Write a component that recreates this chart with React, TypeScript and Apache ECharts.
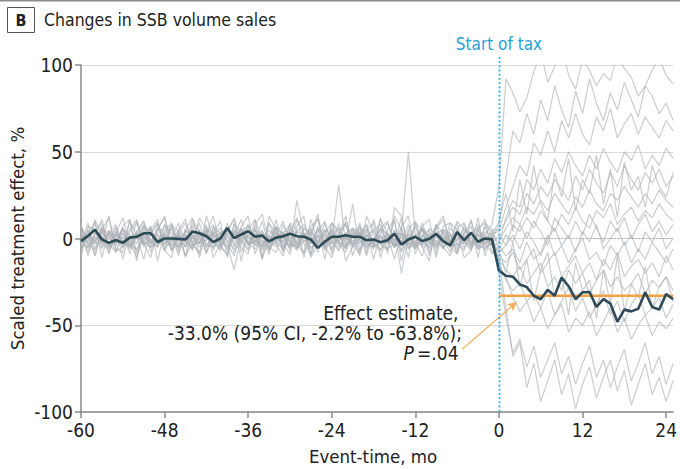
import React, { useEffect, useRef } from 'react';
import * as echarts from 'echarts';

const FONT = '"DejaVu Sans Condensed","Liberation Sans",sans-serif';

const eventTime = [
  -60, -59, -58, -57, -56, -55, -54, -53, -52, -51, -50, -49, -48, -47, -46, -45, -44, -43, -42, -41,
  -40, -39, -38, -37, -36, -35, -34, -33, -32, -31, -30, -29, -28, -27, -26, -25, -24, -23, -22, -21,
  -20, -19, -18, -17, -16, -15, -14, -13, -12, -11, -10, -9, -8, -7, -6, -5, -4, -3, -2, -1,
  0, 1, 2, 3, 4, 5, 6, 7, 8, 9, 10, 11, 12, 13, 14, 15, 16, 17, 18, 19, 20, 21, 22, 23, 24, 25,
];

const treatedPre = [
  -1.5, 1.5, 5, -0.5, -2.5, -1, -2.5, 0.5, 1, 3,
  3, -2, 0, 0, -0.2, -0.6, 4, 3, 1.3, -2,
  0, 6, 0.2, 2.3, 4.2, 1, 1.7, -1.7, 0.5, 1.3,
  2.7, 1.3, 1, -0.6, -5.4, -1.9, 1, 1, 1.9, 1,
  1, -1, -0.6, -2.1, -1, 2.7, -3.5, -0.6, 1, -1.5,
  -0.2, 2.7, -1.5, -4, 3.7, -1, 3.3, -1.9, 0, -0.5,
];
const treatedPost = [
  -18.5, -21.5, -22, -26.5, -28, -33, -35, -29.5, -33, -22.5, -27.5, -35, -31,
  -30.8, -39.4, -35, -37.5, -48, -41, -42, -40.5, -31, -39.5, -41, -32, -35,
];

const effectEstimate = -33.0;
const taxStart = 0;
const lastMonth = 25;
const xTicks = [-60, -48, -36, -24, -12, 0, 12, 24];

const placeboLines: number[][] = [
  [7,-5,11,2,-9,3,12,-4,0,8, -8,5,12,-2,3,-10,1,9,-5,3, 10,-11,4,0,-6,8,14,-2,6,-8, 3,12,-3,-9,4,10,-6,2,13,-5, 0,6,-12,3,9,-3,12,-6,2,5, -10,6,11,-2,-8,3,10,-5,2,8,
   30,92,84,73,81,96,108,90,99,112,94,86,103,97,88,95,91,106,98,93,82,88,97,104,94,89],
  [-2,5,-6,3,1,-4,6,-1,-7,2, 4,-3,0,7,-5,2,-2,5,-8,1, 3,6,-4,-1,8,-3,2,-6,4,0, -5,22,3,-2,5,-4,1,-7,3,6, -2,1,5,-3,-6,4,2,-1,7,-4, 3,-2,-5,6,1,-3,4,-6,2,-1,
   8,35,62,55,72,60,80,68,88,74,64,85,72,92,78,68,84,74,90,80,70,88,82,72,78,68],
  [2,-8,3,9,-5,-2,6,-9,4,10, -3,2,-7,8,4,-11,9,0,-5,6, -2,3,12,-8,2,5,-5,9,-3,-10, 6,2,-8,11,-2,5,-9,3,8,-5, 9,-6,0,5,-3,10,-8,2,-5,6, 0,8,-6,3,-9,5,2,8,-3,5,
   5,18,30,42,36,55,48,62,50,68,58,72,60,54,70,62,75,58,66,72,60,70,64,58,68,62],
  [-4,2,5,-3,0,6,-5,1,3,-2, 7,-4,2,-1,5,0,-6,3,4,-2, -5,3,1,6,-3,2,-4,5,-1,3, -7,4,2,-3,6,1,-2,31,-4,2, 5,-1,-3,6,2,-5,3,0,-4,6, 1,-3,5,-2,4,-1,-6,3,2,-4,
   -3,12,22,18,34,28,40,32,46,38,50,42,36,48,40,52,44,38,50,45,54,40,48,42,52,46],
  [5,0,-3,7,-8,2,3,-5,10,-2, -5,8,2,-7,3,9,-3,-8,5,2, 6,-3,-10,3,8,-2,5,-7,2,10, -3,-5,6,2,-8,3,9,-2,-5,6, 3,-10,5,8,-3,2,-7,5,10,-2, -5,3,0,-8,6,9,-3,2,-7,3,
   4,10,18,14,26,20,30,24,34,28,22,36,28,40,32,26,38,30,42,34,28,38,32,40,30,36],
  [-3,9,-10,5,12,-6,-8,10,2,-12, 5,11,-7,0,9,-5,7,-11,3,13, -5,-9,8,4,-3,11,-12,2,7,-7, 9,5,-11,3,14,-7,5,-3,10,-10, 2,8,-5,12,-9,18,13,-6,-2,7, 11,-9,5,3,-7,9,-5,12,-10,2,
   -2,6,12,8,18,14,22,16,26,20,14,24,18,28,20,16,26,22,30,24,18,26,20,28,22,18],
  [5,-10,3,11,-5,7,-12,4,9,-3, -11,5,13,-7,2,-5,11,4,-9,7, 3,-7,9,-13,5,11,-2,-9,7,2, -5,11,3,-9,7,-12,9,5,-3,20, -7,5,9,-11,3,-5,7,13,-9,2, 5,-11,7,9,-3,-7,11,-5,7,-3,
   2,-4,8,4,12,6,16,10,4,14,8,18,10,6,16,12,20,8,14,18,10,16,12,20,14,10],
  [-7,3,9,-11,5,-3,7,11,-9,0, 7,-13,5,9,-5,3,-7,12,5,-11, -3,9,-5,7,13,-9,3,-5,11,-7, 5,-3,-9,7,11,-5,-11,3,9,-3, -9,13,3,-7,5,11,-13,5,-5,9, -3,7,13,-5,-9,3,7,-11,9,5,
   -6,2,-2,8,0,10,4,-4,12,6,0,10,2,14,6,-2,10,4,12,0,8,14,4,10,2,8],
  [8,-3,-7,5,2,-8,6,-5,3,10, -2,-5,8,3,-10,5,0,-3,8,-7, 3,2,-8,6,-3,-2,10,-5,-8,3, 8,-6,2,5,-3,9,-2,-7,3,5, -8,2,-3,6,10,-5,-2,8,-3,-10, 6,2,-5,-2,9,-6,3,6,-5,-3,
   -8,-4,2,-6,4,-2,-10,0,6,-4,2,-8,4,-2,8,-6,0,6,-4,2,-8,4,-2,6,-6,0],
  [-11,7,5,-3,13,-7,-5,11,-13,7, 3,9,-7,-11,5,11,-3,-9,13,0, -7,5,11,-5,-9,7,-11,13,5,-3, -9,7,13,-11,-3,5,-7,9,-13,-5, 7,-9,11,-3,-7,13,5,-11,9,-5, -13,7,-3,9,5,-11,-7,5,11,-9,
   -4,-10,-6,-14,-2,-12,-8,2,-10,-4,-14,-6,0,-12,-8,-16,-4,-10,-2,-14,-6,-12,-2,-8,-14,-6],
  [0,-6,3,-2,4,1,-5,-1,3,-4, 5,-2,-3,1,-6,4,2,-5,-1,3, -4,-2,1,5,-3,-6,2,-1,3,-5, 1,-6,-2,4,-4,-1,3,-5,1,-3, 4,-2,-6,-1,3,-5,1,-3,-6,2, -2,-6,4,-3,-1,2,-5,-1,-3,1,
   -10,-14,-8,-18,-12,-6,-20,-14,-8,-22,-16,-10,-20,-14,-24,-12,-18,-8,-22,-16,-12,-20,-14,-22,-10,-18],
  [-6,2,-3,-1,-5,4,-2,-6,1,-3, -1,-5,3,-4,0,-2,-6,2,-3,-5, 4,-1,-6,-3,2,-4,-1,-7,1,-2, -5,-3,2,-6,-1,-4,1,-2,-6,3, -1,-5,-2,2,-6,-3,-1,-4,2,-5, -3,-1,-6,2,-4,-2,1,-6,-3,-1,
   -12,-18,-22,-16,-26,-20,-14,-28,-22,-30,-18,-26,-20,-32,-24,-18,-28,-22,-30,-26,-20,-32,-24,-28,-22,-30],
  [2,-3,-1,5,-4,3,-2,-5,4,1, -3,6,-1,-4,3,-2,-5,1,4,-3, -6,2,-2,5,1,-4,3,-3,-1,4, -2,-5,1,6,-3,-1,4,-2,-5,1, 3,-4,-1,2,-3,5,-20,1,-2,-4, 2,-5,1,-3,5,-2,-4,2,-1,-3,
   -14,-24,-30,-26,-36,-32,-40,-30,-44,-36,-28,-42,-34,-46,-38,-30,-44,-36,-48,-38,-32,-44,-40,-34,-46,-38],
  [-2,-5,1,-3,-6,2,-1,-4,3,-2, -5,-1,2,-6,-3,1,-4,-2,3,-5, -1,-4,-18,2,-3,-1,-5,1,-2,-6, 3,-4,-1,-3,2,-6,-2,1,-4,-1, -3,2,-5,-2,1,-4,-3,3,-6,-1, -2,-4,1,-5,-3,2,-1,-4,-6,-2,
   -16,-22,-34,-42,-36,-48,-40,-52,-44,-38,-54,-46,-50,-42,-56,-48,-40,-54,-46,-58,-50,-44,-56,-48,-52,-46],
  [1,4,-2,6,3,-1,5,2,-3,7, 4,-1,3,8,-2,5,1,-3,6,2, -1,5,3,-2,7,1,4,-1,6,3, -2,4,8,1,-3,5,2,6,-1,3, 7,2,-2,5,3,-1,4,50,1,6, -2,3,5,1,-1,6,3,-2,4,2,
   -20,-45,-66,-58,-74,-62,-80,-70,-60,-78,-68,-84,-72,-62,-80,-70,-86,-74,-64,-82,-72,-60,-78,-68,-84,-72],
  [-3,2,-1,-5,3,-2,1,-4,-6,2, -1,3,-4,-2,1,-5,2,-3,-1,4, -2,-5,1,3,-4,-1,2,-6,-2,1, -4,-1,3,-5,-2,2,-3,-1,1,-4, 2,-3,-5,1,-1,-4,3,-2,-5,1, -1,-4,2,-2,-5,1,-3,2,-1,-4,
   -12,-40,-68,-60,-86,-72,-94,-82,-70,-90,-78,-98,-84,-74,-92,-80,-70,-88,-76,-96,-84,-72,-90,-80,-94,-82],
  [7,-2,10,-6,3,8,-3,5,11,-5, 2,9,-3,6,-8,5,12,-2,3,8, -5,6,2,11,-3,5,-7,9,3,-2, 8,-3,6,2,12,-5,9,3,-6,5, 2,8,-5,11,3,-2,6,-3,9,5, -6,8,3,-2,10,5,-3,6,9,2,
   10,26,4,34,14,42,20,10,38,24,46,16,34,26,48,20,40,12,44,28,36,18,42,30,24,38],
  [-7,2,-10,5,-3,-8,3,-2,-11,6, -5,-2,8,-7,3,-10,-3,5,-8,2, -3,-10,5,-2,-7,3,-12,2,-5,8, -2,-7,3,-10,2,-5,6,-3,-8,2, -10,5,-3,-7,2,-12,3,-5,-2,6, -8,2,-5,-10,3,-2,-7,5,-3,-8,
   -6,-20,-2,-28,-12,-36,-18,-8,-34,-22,-44,-14,-30,-24,-46,-18,-38,-10,-42,-26,-34,-16,-40,-28,-22,-36],
];

const toPoints = (vals: number[]) => eventTime.map((t, i) => [t, vals[i]]);

export default function App() {
  const ref = useRef<HTMLDivElement>(null);
  useEffect(() => {
    if (!ref.current) return;
    const chart = echarts.init(ref.current, null, { renderer: 'svg' });
    const treated = treatedPre.concat(treatedPost);
    const grayStyle = { color: 'rgba(172,177,182,0.64)', width: 1.2 };
    const series: any[] = [
      {
        type: 'line', name: 'zero', data: [[6, 0], [lastMonth, 0]], symbol: 'none', silent: true, z: 1,
        lineStyle: { color: '#a8a8a8', width: 1.2, type: [1.5, 2] },
      },
      ...placeboLines.map((vals, i) => ({
        type: 'line', name: 'placebo' + i, data: toPoints(vals), symbol: 'none', silent: true, z: 2,
        lineStyle: grayStyle,
      })),
      {
        type: 'line', name: 'estimate', data: [[taxStart, effectEstimate], [lastMonth, effectEstimate]],
        symbol: 'none', silent: true, z: 3,
        lineStyle: { color: '#f2a143', width: 2.5 },
        markLine: {
          silent: true, symbol: ['none', 'arrow'], symbolSize: [7, 9],
          label: { show: false },
          lineStyle: { color: '#f2ad60', width: 1.3, type: 'solid' },
          data: [[{ coord: [-5.3, -63.9] }, { coord: [2.55, -36.6] }]],
        },
      },
      {
        type: 'line', name: 'treated', data: toPoints(treated), symbol: 'none', silent: true, z: 4,
        lineStyle: { color: '#2e4b57', width: 2.6 },
      },
    ];
    chart.setOption({
      animation: false,
      grid: { left: 81, right: 3, top: 65, bottom: 57 },
      xAxis: {
        type: 'value', min: -60, max: lastMonth, interval: 12,
        axisLine: { show: true, onZero: false, lineStyle: { color: '#8a8a8a', width: 1.5 } },
        axisTick: { show: true, length: 6, lineStyle: { color: '#8a8a8a', width: 1.5 }, customValues: xTicks },
        axisLabel: { color: '#222', fontSize: 19, fontFamily: FONT, margin: 8, customValues: xTicks },
        splitLine: { show: false },
      },
      yAxis: {
        type: 'value', min: -100, max: 100, interval: 50,
        axisLine: { show: true, onZero: false, lineStyle: { color: '#8a8a8a', width: 1.5 } },
        axisTick: { show: true, length: 6, lineStyle: { color: '#8a8a8a', width: 1.5 } },
        axisLabel: { color: '#222', fontSize: 19, fontFamily: FONT, margin: 8 },
        splitLine: { show: true, lineStyle: { color: '#dadada', width: 1.2 } },
      },
      series,
    });

    const px = (x: number, y: number) => chart.convertToPixel({ gridIndex: 0 }, [x, y]) as number[];
    const top = px(taxStart, 100);
    const bot = px(taxStart, -100);
    const left = px(-60, 0);
    const right = px(lastMonth, 0);
    const a1 = px(-5.8, -43);
    const a2 = px(-5.3, -54.6);
    const a3 = px(-5.8, -66.2);
    const vx = Math.round(top[0]) + 0.5;
    const textStyle = (extra: any) => ({ fontFamily: FONT, fill: '#222', ...extra });
    chart.setOption({
      graphic: [
        { type: 'line', shape: { x1: 0, y1: 0.75, x2: 680, y2: 0.75 }, style: { stroke: '#8c8c8c', lineWidth: 1.5 } },
        { type: 'rect', shape: { x: 7.5, y: 7.5, width: 27, height: 25 }, style: { fill: 'none', stroke: '#555', lineWidth: 1 } },
        { type: 'text', x: 21, y: 20.5, style: textStyle({ text: 'B', fontSize: 16, fontWeight: 'bold', align: 'center', verticalAlign: 'middle' }) },
        { type: 'text', x: 44, y: 20, style: textStyle({ text: 'Changes in SSB volume sales', fontSize: 17.5, align: 'left', verticalAlign: 'middle' }) },
        { type: 'text', x: top[0], y: top[1] - 21, style: textStyle({ text: 'Start of tax', fontSize: 17, fill: '#1fa3d8', align: 'center', verticalAlign: 'middle' }) },
        { type: 'line', z: 10, shape: { x1: vx, y1: top[1] - 8, x2: vx, y2: bot[1] }, style: { stroke: '#29a9e1', lineWidth: 1.8, lineDash: [1.8, 2.4] } },
        { type: 'text', x: 17, y: (top[1] + bot[1]) / 2, rotation: Math.PI / 2, style: textStyle({ text: 'Scaled treatment effect, %', fontSize: 18.5, align: 'center', verticalAlign: 'middle' }) },
        { type: 'text', x: (left[0] + right[0]) / 2 - 4, y: 456, style: textStyle({ text: 'Event-time, mo', fontSize: 18.5, align: 'center', verticalAlign: 'middle' }) },
        { type: 'text', z: 5, x: a1[0], y: a1[1], style: textStyle({ text: 'Effect estimate,', fontSize: 19, align: 'right', verticalAlign: 'middle' }) },
        { type: 'text', z: 5, x: a2[0], y: a2[1], style: textStyle({ text: '-33.0% (95% CI, -2.2% to -63.8%);', fontSize: 19, align: 'right', verticalAlign: 'middle' }) },
        {
          type: 'text', z: 5, x: a3[0], y: a3[1],
          style: {
            text: '{i|P} {n|=.04}', align: 'right', verticalAlign: 'middle',
            rich: {
              i: { fontFamily: FONT, fontSize: 19, fontStyle: 'italic', fill: '#222' },
              n: { fontFamily: FONT, fontSize: 19, fill: '#222' },
            },
          },
        },
      ],
    });
    return () => chart.dispose();
  }, []);
  return <div ref={ref} style={{ position: 'absolute', left: 0, top: 0, width: 680, height: 469 }} />;
}
